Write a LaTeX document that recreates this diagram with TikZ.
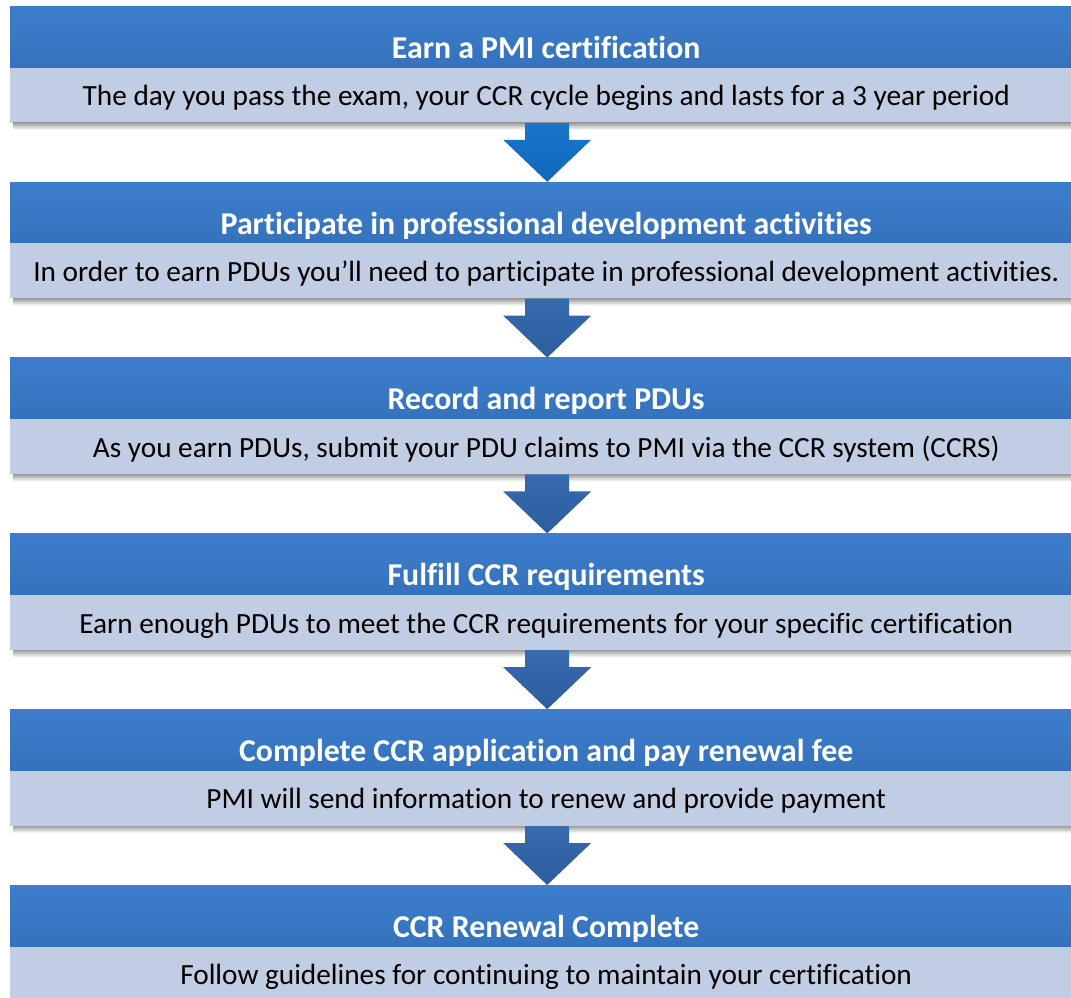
\documentclass[tikz,border=0pt]{standalone}
\usepackage{fontspec}
\setmainfont{Carlito}[Ligatures=NoCommon]
\usetikzlibrary{calc}
\definecolor{hdtop}{HTML}{3C7ECB}
\definecolor{hdbot}{HTML}{3672BD}
\definecolor{bodyc}{HTML}{C0CDE3}
\definecolor{arrA}{HTML}{1B76C8}
\definecolor{arrAb}{HTML}{0D68BD}
\definecolor{arrB}{HTML}{366BAF}
\definecolor{arrBb}{HTML}{2D5D9C}
\begin{document}
\begin{tikzpicture}[x=1pt,y=-1pt]
\tikzset{
 hdr/.style={rectangle, anchor=north west, minimum width=1072pt, minimum height=61pt,
   inner sep=0pt, text height=52pt, text depth=9pt, top color=hdtop, bottom color=hdbot,
   draw=none, text=white, font=\fontsize{31.8}{34}\selectfont\bfseries},
 bdy/.style={rectangle, anchor=north west, minimum width=1072pt, minimum height=55pt,
   inner sep=0pt, text height=38pt, text depth=17pt, fill=bodyc, draw=none,
   text=black, font=\fontsize{29.3}{32}\selectfont},
 shad/.style={top color=black!38, bottom color=white, draw=none},
 arrfirst/.style={top color=arrA, bottom color=arrAb, draw=none},
 arrrest/.style={top color=arrB, bottom color=arrBb, draw=none}
}
\useasboundingbox (0,0) rectangle (1071,997);
\clip (0,0) rectangle (1071,997);
\fill[white] (0,0) rectangle (1071,997);

\foreach \i/\ytop/\htxt/\btxt in {
 1/6/{Earn a PMI certification}/{The day you pass the exam, your CCR cycle begins and lasts for a 3 year period},
 2/181.8/{Participate in professional development activities}/{In order to earn PDUs you’ll need to participate in professional development activities.},
 3/357.6/{Record and report PDUs}/{As you earn PDUs, submit your PDU claims to PMI via the CCR system (CCRS)},
 4/533.4/{Fulfill CCR requirements}/{Earn enough PDUs to meet the CCR requirements for your specific certification},
 5/709.2/{Complete CCR application and pay renewal fee}/{PMI will send information to renew and provide payment},
 6/885/{CCR Renewal Complete}/{Follow guidelines for continuing to maintain your certification}}
{
 \node[hdr] (h\i) at (10,\ytop) {\htxt};
 \node[bdy] (b\i) at (h\i.south west) {\btxt};
 \shade[shad] ($(b\i.south west)+(3,0)$) rectangle ($(b\i.south east)+(0,7)$);
}

\foreach \a/\b/\st in {1/2/arrfirst,2/3/arrrest,3/4/arrrest,4/5/arrrest,5/6/arrrest}{
 \coordinate (s\a) at ($(b\a.south)+(1,0)$);
 \coordinate (t\a) at ($(h\b.north)+(1,0)$);
 \shade[\st] ($(s\a)+(-22,0)$) -- ($(s\a)+(22,0)$) -- ($(s\a)+(22,17)$) -- ($(s\a)+(44,17)$)
   -- (t\a) -- ($(s\a)+(-44,17)$) -- ($(s\a)+(-22,17)$) -- cycle;
}
\end{tikzpicture}
\end{document}
